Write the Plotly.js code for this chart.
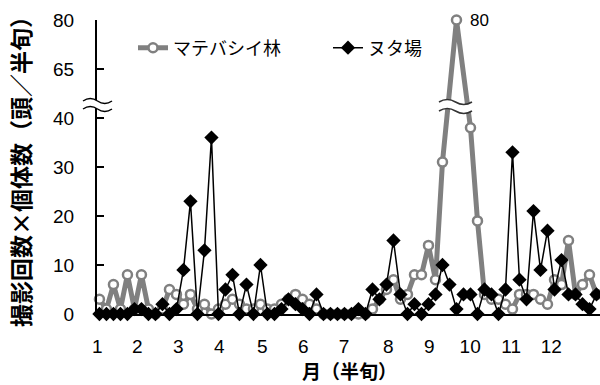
<!DOCTYPE html>
<html><head><meta charset="utf-8">
<script src="https://cdn.plot.ly/plotly-3.0.1.min.js"></script>
<style>html,body{margin:0;padding:0;background:#fff;} #chart{width:600px;height:385px;}</style>
</head><body><div id="chart"></div>
<script>
// ---- data ----
const seriesNames = ['マテバシイ林', 'ヌタ場'];
// half-month periods (6 per month, Jan-Dec), index 0..71
const periodIndex = [
  0,1,2,3,4,5,6,7,8,9,10,11,12,13,14,15,16,17,18,19,20,21,22,23,
  24,25,26,27,28,29,30,31,32,33,34,35,36,37,38,39,40,41,42,43,44,45,46,47,
  48,49,50,51,52,53,54,55,56,57,58,59,60,61,62,63,64,65,66,67,68,69,70,71];
// null = value hidden behind the axis break on the line
const matebashi = [
  3,1,6,1,8,1,8,1,0,1, 5,4,2,4,1,2,0,1,2,3,
  2,1,1,2,1,1,2,3,4,3, 2,1,0,0,0,0,0,0,0,1,
  3,5,7,3,4,8,8,14,7,31, null,80,null,38,19,4,3,3,2,1,
  4,4,4,3,2,7,6,15,4,6, 8,4];
const nutaba = [
  0,0,0,0,0,1,1,0,0,2, 0,1,9,23,0,13,36,0,5,8,
  0,6,0,10,0,0,1,3,2,1, 0,4,0,0,0,0,0,1,0,5,
  3,6,15,4,0,2,0,2,4,10, 6,1,4,4,0,5,4,0,5,33,
  7,3,21,9,17,5,11,4,4,2, 1,4];
const monthLabels = ['1','2','3','4','5','6','7','8','9','10','11','12'];
const monthLabelPos = [-0.3, 5.4, 11.25, 17.1, 23.25, 29.1, 34.95, 41.25, 47.1, 52.95, 58.8, 64.55];
const yTickValues = [0, 10, 20, 30, 40, 65, 80];
const peakLabel = 80;

// ---- broken y scale: 0-40 linear, break, 65-80 compressed ----
function brk(v) {
  if (v === null) return null;
  if (v <= 40) return v;
  return 50 + (v - 65) * 10 / 15;
}

// pixel helpers for decorations (plot area: x 97..600, y 20..314)
const L = 97, T = 20, W = 503, H = 294;
const PX = px => (px - L) / W;
const PY = py => (T + H - py) / H;
function waveBand(x0, x1, yU, yL, a) {
  const w = x1 - x0;
  const p = (x, y) => PX(x).toFixed(4) + ',' + PY(y).toFixed(4);
  const band = 'M' + p(x0, yU) + ' Q' + p(x0 + w/4, yU - 2*a) + ' ' + p(x0 + w/2, yU) +
    ' T' + p(x1, yU) + ' L' + p(x1, yL) + ' Q' + p(x1 - w/4, yL + 2*a) + ' ' + p(x1 - w/2, yL) +
    ' T' + p(x0, yL) + ' Z';
  const up = 'M' + p(x0, yU) + ' Q' + p(x0 + w/4, yU - 2*a) + ' ' + p(x0 + w/2, yU) + ' T' + p(x1, yU);
  const lo = 'M' + p(x0, yL) + ' Q' + p(x0 + w/4, yL - 2*a) + ' ' + p(x0 + w/2, yL) + ' T' + p(x1, yL);
  return [band, up, lo];
}
function breakShapes(x0, x1, yU, yL, a, color) {
  const [band, up, lo] = waveBand(x0, x1, yU, yL, a);
  return [
    {type:'path', xref:'paper', yref:'paper', path: band, fillcolor:'#ffffff', line:{width:0}, layer:'above'},
    {type:'path', xref:'paper', yref:'paper', path: up, line:{color: color, width:1.5}, layer:'above'},
    {type:'path', xref:'paper', yref:'paper', path: lo, line:{color: color, width:1.5}, layer:'above'}
  ];
}

const traces = [
  {
    x: periodIndex, y: matebashi.map(brk), name: seriesNames[0], type:'scatter', mode:'lines+markers',
    connectgaps: true, cliponaxis: false,
    line: {color:'#808080', width:5},
    marker: {symbol:'circle', size:9, color:'#ffffff', line:{color:'#808080', width:2.5}}
  },
  {
    x: periodIndex, y: nutaba.map(brk), name: seriesNames[1], type:'scatter', mode:'lines+markers',
    cliponaxis: false,
    line: {color:'#000000', width:1.5},
    marker: {symbol:'diamond', size:11, color:'#000000'}
  }
];

const numFont = {family:'Liberation Sans, Arial, sans-serif', size:19, color:'#000'};
const jpFont = 'Noto Sans CJK JP, sans-serif';

const layout = {
  width: 600, height: 385,
  margin: {l: L, r: 0, t: T, b: 385 - T - H, pad: 0},
  paper_bgcolor: '#fff', plot_bgcolor: '#fff',
  showlegend: true,
  legend: {
    orientation: 'h', x: PX(133), xanchor: 'left', y: PY(48), yanchor: 'middle',
    font: {family: jpFont, size: 18, color: '#000'},
    entrywidth: 150, entrywidthmode: 'pixels', bgcolor: 'rgba(0,0,0,0)', borderwidth: 0,
    traceorder: 'normal'
  },
  xaxis: {
    range: [-0.35, 71.5], tickvals: monthLabelPos, ticktext: monthLabels,
    ticks: '', showline: true, linecolor: '#000', linewidth: 1.5,
    showgrid: false, zeroline: false, tickfont: numFont, ticklabelstandoff: 15
  },
  yaxis: {
    range: [0, 60], tickvals: yTickValues.map(brk), ticktext: yTickValues.map(String),
    ticks: 'inside', ticklen: 7, tickwidth: 1.5, tickcolor: '#000',
    showline: true, linecolor: '#000', linewidth: 2,
    showgrid: false, zeroline: false, tickfont: numFont, ticklabelstandoff: 17
  },
  annotations: [
    {xref:'paper', yref:'paper', x: PX(20), y: PY(166), xanchor:'center', yanchor:'middle',
     text:'<b>撮影回数×個体数（頭／半旬）</b>', textangle: -90, showarrow:false,
     font:{family: jpFont, size: 23, color:'#000'}},
    {xref:'paper', yref:'paper', x: PX(349), y: PY(370), xanchor:'center', yanchor:'middle',
     text:'<b>月（半旬）</b>', showarrow:false, font:{family: jpFont, size: 19, color:'#000'}},
    {xref:'x', yref:'y', x: matebashi.indexOf(peakLabel), y: brk(peakLabel), xanchor:'left', yanchor:'middle',
     xshift: 12, text: String(peakLabel), showarrow:false,
     font:{family:'Liberation Sans, Arial, sans-serif', size:17, color:'#000'}}
  ],
  shapes: [].concat(
    breakShapes(83, 112, 101, 109, 2.5, '#000'),
    breakShapes(439, 472, 102, 111, 2.5, '#333')
  )
};

Plotly.newPlot('chart', traces, layout, {staticPlot: true, displayModeBar: false});
</script>
</body></html>
